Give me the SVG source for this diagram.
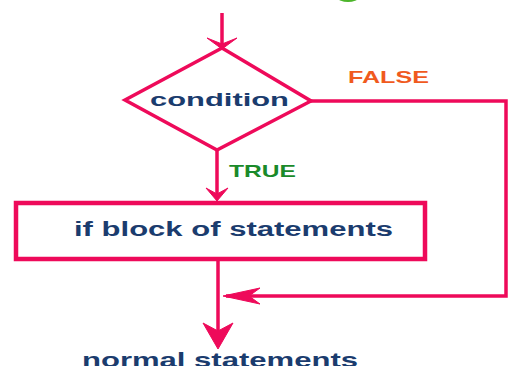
<svg xmlns="http://www.w3.org/2000/svg" width="508" height="366" viewBox="0 0 508 366">
<style>
.ln{fill:none;stroke:#ee0a5a;stroke-width:3.5}
.ah{fill:#ee0a5a;stroke:#ee0a5a;stroke-width:1;stroke-linejoin:round}
.lbl{font-family:"Liberation Sans",Arial,sans-serif;font-weight:bold;fill:#1b3c6e}
</style>
<rect width="508" height="366" fill="#ffffff"/>
<ellipse cx="348" cy="-2" rx="10" ry="4" fill="#4cb52a"/>
<g id="connectors">
<path class="ln" d="M222,13 L222,46"/>
<path class="ah" d="M207,38 L222,44 L237,38 L222,49 Z"/>
<path class="ln" d="M217,150 L217,196"/>
<path class="ah" d="M206,188 L217,194 L228,188 L217,201 Z"/>
<path class="ln" d="M311,101 L506,101 L506,296 L226,296"/>
<path class="ah" d="M260,288 L249,296 L260,304 L223,296 Z"/>
<path class="ln" d="M218,261 L218,345"/>
<path class="ah" d="M203,323 L218,331 L233,323 L218,349 Z"/>
<text x="348" y="83" font-family="Liberation Sans,Arial,sans-serif" font-weight="bold" font-size="17" fill="#f05a1e" textLength="81" lengthAdjust="spacingAndGlyphs">FALSE</text>
<text x="229" y="177" font-family="Liberation Sans,Arial,sans-serif" font-weight="bold" font-size="17" fill="#1a8a2a" textLength="67" lengthAdjust="spacingAndGlyphs">TRUE</text>
</g>
<g id="condition">
<path d="M222,48 L311,101 L217,150 L125,100 Z" fill="#ffffff" stroke="#ee0a5a" stroke-width="3.5" stroke-linejoin="miter"/>
<text class="lbl" x="150" y="106" font-size="19" textLength="139" lengthAdjust="spacingAndGlyphs">condition</text>
</g>
<g id="ifblock">
<rect x="16" y="203" width="409" height="56" fill="#ffffff" stroke="#ee0a5a" stroke-width="4.5"/>
<text class="lbl" x="74" y="236" font-size="20" textLength="319" lengthAdjust="spacingAndGlyphs">if block of statements</text>
</g>
<g id="normal">
<text class="lbl" x="82" y="367" font-size="21" textLength="276" lengthAdjust="spacingAndGlyphs">normal statements</text>
</g>
</svg>
